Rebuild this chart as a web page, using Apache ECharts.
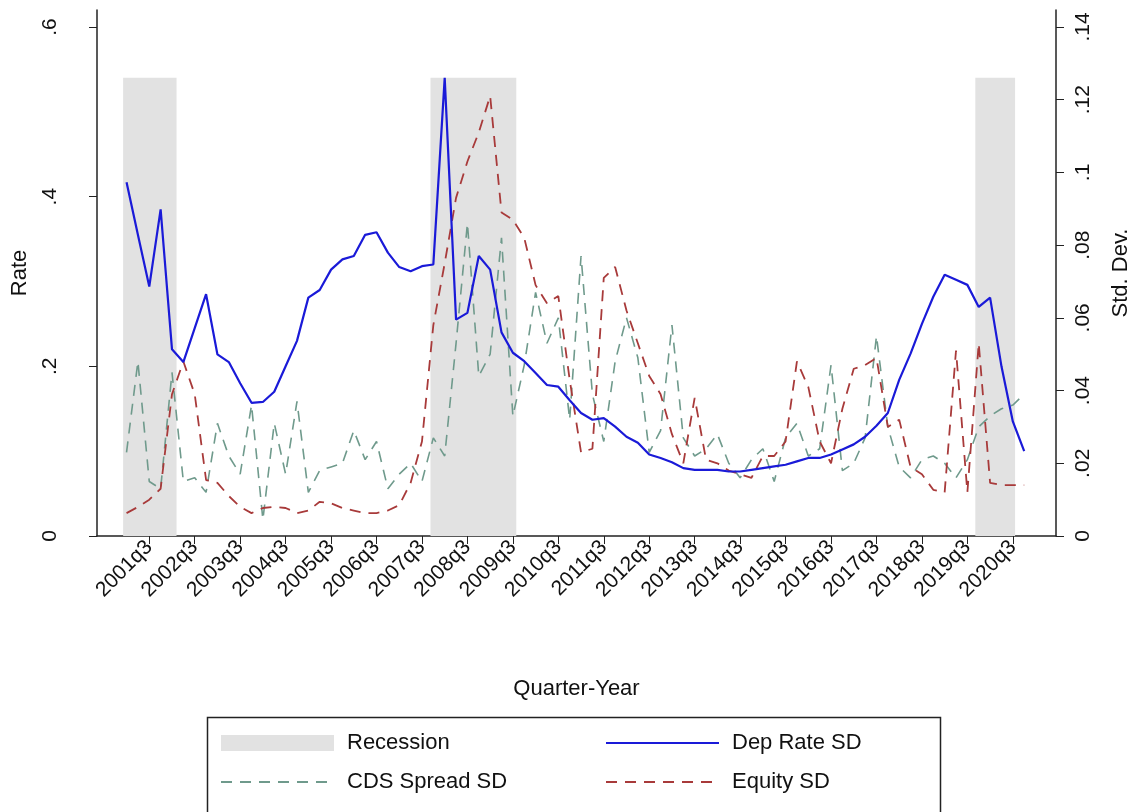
<!DOCTYPE html>
<html>
<head>
<meta charset="utf-8">
<script src="https://cdn.jsdelivr.net/npm/echarts@6/dist/echarts.min.js"></script>
<style>
  body { margin: 0; background: #fff; }
  #chart { width: 1140px; height: 812px; }
</style>
</head>
<body>
<div id="chart"></div>
<script>
// quarters 2001q1 .. 2020q4, index 0..79
var startYear = 2001;
var tickIdx = [2, 6, 10, 14, 18, 22, 26, 30, 34, 38, 42, 46, 50, 54, 58, 62, 66, 70, 74, 78];

// Dep Rate SD (left axis)
var depRate = [.417, .355, .294, .385, .22, .205, .245, .285, .214, .205,
    .18, .157, .158, .17, .2, .23, .281, .29, .314, .326,
    .33, .355, .358, .334, .317, .312, .318, .32, .54, .255,
    .263, .33, .314, .24, .216, .206, .192, .178, .176, .16,
    .145, .137, .139, .129, .117, .11, .096, .092, .087, .08,
    .078, .078, .078, .076, .076, .078, .08, .082, .084, .088,
    .092, .092, .096, .102, .108, .117, .13, .145, .184, .215,
    .25, .282, .308, .302, .296, .27, .281, .2, .135, .1];

// CDS Spread SD (right axis)
var cdsSd = [.023, .048, .015, .013, .045, .015, .016, .012, .031, .022,
    .017, .036, .0045, .031, .017, .037, .012, .018, .019, .02,
    .029, .021, .026, .013, .017, .02, .015, .027, .022, .053,
    .086, .044, .05, .082, .033, .047, .067, .053, .06, .032,
    .077, .039, .026, .048, .06, .049, .023, .029, .058, .027,
    .022, .024, .028, .02, .016, .021, .024, .015, .027, .031,
    .022, .024, .047, .018, .02, .027, .055, .03, .019, .016,
    .021, .022, .02, .016, .021, .03, .033, .035, .036, .039];

// Equity SD (right axis)
var equitySd = [.0063, .008, .01, .013, .039, .048, .039, .0154, .0146, .011,
    .008, .0063, .0077, .008, .0077, .0063, .007, .0094, .009, .0077,
    .007, .0063, .0063, .007, .0085, .0146, .026, .058, .075, .093,
    .103, .111, .121, .089, .087, .082, .069, .064, .066, .043,
    .023, .024, .071, .074, .062, .053, .044, .039, .028, .02,
    .038, .021, .02, .018, .017, .016, .022, .022, .026, .048,
    .041, .026, .02, .035, .046, .047, .049, .03, .032, .019,
    .017, .0127, .012, .051, .012, .053, .0146, .014, .014, .014];

// recession spans in quarter index units
var recessions = [[-0.3, 4.4], [26.75, 34.3], [74.7, 78.2]];
var recessionTop = 0.54;

function pairs(arr) {
    return arr.map(function (v, i) { return [i, v]; });
}

function qLabel(v) {
    var i = Math.round(v);
    return (startYear + Math.floor(i / 4)) + 'q' + (i % 4 + 1);
}

var font = 'Liberation Sans, Arial, sans-serif';
var chart = echarts.init(document.getElementById('chart'));

var option = {
    animation: false,
    textStyle: { fontFamily: font },
    grid: { left: 97, right: 80, top: 10, bottom: 276 },
    xAxis: {
        type: 'value',
        min: -2.6,
        max: 81.8,
        name: 'Quarter-Year',
        nameLocation: 'middle',
        nameGap: 142,
        nameTextStyle: { fontSize: 22, color: '#111' },
        axisLine: { show: true, onZero: false, lineStyle: { color: '#222', width: 1.5 } },
        axisTick: { show: true, length: 8, customValues: tickIdx, lineStyle: { color: '#222' } },
        axisLabel: {
            customValues: tickIdx, rotate: 45, fontSize: 21, color: '#111',
            formatter: qLabel
        },
        splitLine: { show: false }
    },
    yAxis: [{
        type: 'value',
        min: 0,
        max: 0.62,
        interval: 0.2,
        name: 'Rate',
        nameLocation: 'middle',
        nameGap: 66,
        nameTextStyle: { fontSize: 22, color: '#111' },
        axisLine: { show: true, onZero: false, lineStyle: { color: '#222', width: 1.5 } },
        axisTick: { show: true, length: 8, lineStyle: { color: '#222' } },
        axisLabel: {
            rotate: 90, fontSize: 21, color: '#111', margin: 36, showMaxLabel: false,
            formatter: function (v) { return v === 0 ? '0' : String(+v.toFixed(1)).replace(/^0/, ''); }
        },
        splitLine: { show: false }
    }, {
        type: 'value',
        min: 0,
        max: 0.62 * 0.14 / 0.6,
        interval: 0.02,
        name: 'Std. Dev.',
        nameLocation: 'middle',
        nameGap: 54,
        nameRotate: 90,
        nameTextStyle: { fontSize: 22, color: '#111' },
        axisLine: { show: true, onZero: false, lineStyle: { color: '#222', width: 1.5 } },
        axisTick: { show: true, length: 8, lineStyle: { color: '#222' } },
        axisLabel: {
            rotate: 90, fontSize: 21, color: '#111', margin: 17, showMaxLabel: false,
            formatter: function (v) { return v === 0 ? '0' : String(+v.toFixed(2)).replace(/^0/, ''); }
        },
        splitLine: { show: false }
    }],
    legend: [{
        left: 215, top: 727, orient: 'vertical', itemGap: 17,
        itemWidth: 113, itemHeight: 16,
        itemStyle: { opacity: 0 },
        textStyle: { fontSize: 22, color: '#111', padding: [0, 0, 0, 8] },
        data: [{ name: 'Recession', icon: 'rect', itemStyle: { opacity: 1 } }, 'CDS Spread SD']
    }, {
        left: 600, top: 727, orient: 'vertical', itemGap: 17,
        itemWidth: 113, itemHeight: 16,
        itemStyle: { opacity: 0 },
        textStyle: { fontSize: 22, color: '#111', padding: [0, 0, 0, 8] },
        data: ['Dep Rate SD', 'Equity SD']
    }],
    graphic: [{
        type: 'rect', left: 205, top: 715,
        shape: { width: 733, height: 100 },
        style: { fill: 'none', stroke: '#222', lineWidth: 1.5 }
    }],
    series: [{
        name: 'Recession',
        type: 'line',
        data: [],
        color: '#e2e2e2',
        itemStyle: { color: '#e2e2e2' },
        markArea: {
            silent: true,
            itemStyle: { color: '#e2e2e2' },
            data: recessions.map(function (r) {
                return [{ xAxis: r[0], yAxis: 0 }, { xAxis: r[1], yAxis: recessionTop }];
            })
        }
    }, {
        name: 'CDS Spread SD',
        type: 'line',
        yAxisIndex: 1,
        data: pairs(cdsSd),
        symbol: 'none',
        color: '#6f9a8c',
        lineStyle: { color: '#6f9a8c', width: 1.6, type: [11, 8] }
    }, {
        name: 'Equity SD',
        type: 'line',
        yAxisIndex: 1,
        data: pairs(equitySd),
        symbol: 'none',
        color: '#a83a3a',
        lineStyle: { color: '#a83a3a', width: 1.8, type: [11, 8] }
    }, {
        name: 'Dep Rate SD',
        type: 'line',
        data: pairs(depRate),
        symbol: 'none',
        color: '#1a1ad8',
        lineStyle: { color: '#1a1ad8', width: 2.2 }
    }]
};

chart.setOption(option);
</script>
</body>
</html>
